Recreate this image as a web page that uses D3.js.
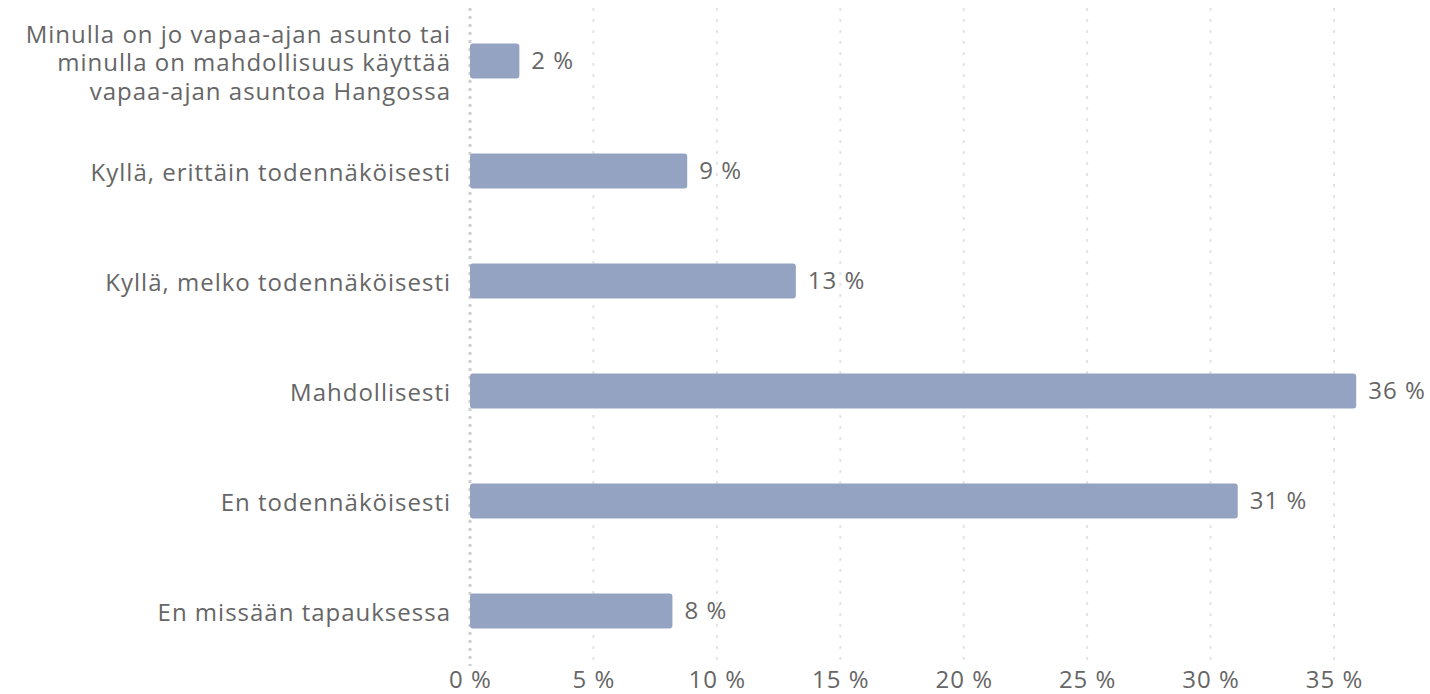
<!DOCTYPE html>
<html><head><meta charset="utf-8">
<script src="https://cdn.jsdelivr.net/npm/d3@7/dist/d3.min.js"></script>
<style>
html,body{margin:0;padding:0;background:#fff;}
svg text{font-family:"Open Sans",sans-serif;fill:#666;letter-spacing:1px;}
</style></head>
<body>
<svg id="chart" width="1430" height="694"></svg>
<script>
const categories = [
  ["Minulla on jo vapaa-ajan asunto tai","minulla on mahdollisuus käyttää","vapaa-ajan asuntoa Hangossa"],
  ["Kyllä, erittäin todennäköisesti"],
  ["Kyllä, melko todennäköisesti"],
  ["Mahdollisesti"],
  ["En todennäköisesti"],
  ["En missään tapauksessa"]
];
const values = [2.0, 8.8, 13.2, 35.9, 31.1, 8.2];
const valueLabels = ["2 %","9 %","13 %","36 %","31 %","8 %"];
const xTicks = [0,5,10,15,20,25,30,35];

const FS = 24;
const svg = d3.select("#chart");
const x = d3.scaleLinear().domain([0,35]).range([470,1334]);
const y = d3.scaleBand().domain(d3.range(categories.length)).range([6,666])
  .paddingInner(0.68).paddingOuter(0.34);

// gridlines
svg.append("g").selectAll("line").data(xTicks.filter(t=>t>0)).join("line")
  .attr("x1",d=>x(d)).attr("x2",d=>x(d)).attr("y1",8).attr("y2",666)
  .attr("stroke","#e3e3e3").attr("stroke-width",2).attr("stroke-dasharray","3,8");
svg.append("line").attr("x1",x(0)).attr("x2",x(0)).attr("y1",8).attr("y2",666)
  .attr("stroke","#cfcfcf").attr("stroke-width",3).attr("stroke-dasharray","3,5");

// x axis labels
const xAxis = d3.axisBottom(x).tickValues(xTicks).tickSize(0).tickFormat(d=>d+" %");
const gx = svg.append("g").attr("transform","translate(0,688)").call(xAxis);
gx.select(".domain").remove();
gx.selectAll("text").attr("font-size",FS).attr("dy",0).attr("y",0)
  .style("font-family","'Open Sans',sans-serif").attr("fill","#666");

// bars
svg.append("g").selectAll("rect").data(values).join("rect")
  .attr("x",x(0)).attr("y",(d,i)=>y(i)).attr("width",d=>x(d)-x(0))
  .attr("height",y.bandwidth()).attr("rx",3).attr("fill","#95a3c3");

// value labels
svg.append("g").selectAll("text").data(values).join("text")
  .attr("x",d=>x(d)+12).attr("y",(d,i)=>y(i)+y.bandwidth()/2)
  .attr("dy","0.35em").attr("font-size",FS).text((d,i)=>valueLabels[i]);

// category labels
const lh = 28.5;
const cg = svg.append("g");
categories.forEach((lines,i)=>{
  const cy = y(i)+y.bandwidth()/2;
  const t = cg.append("text").attr("text-anchor","end").attr("font-size",FS);
  lines.forEach((l,j)=>{
    t.append("tspan").attr("x",451)
      .attr("y",cy + (j-(lines.length-1)/2)*lh + 2).attr("dy","0.35em").text(l);
  });
});
</script>
</body></html>
